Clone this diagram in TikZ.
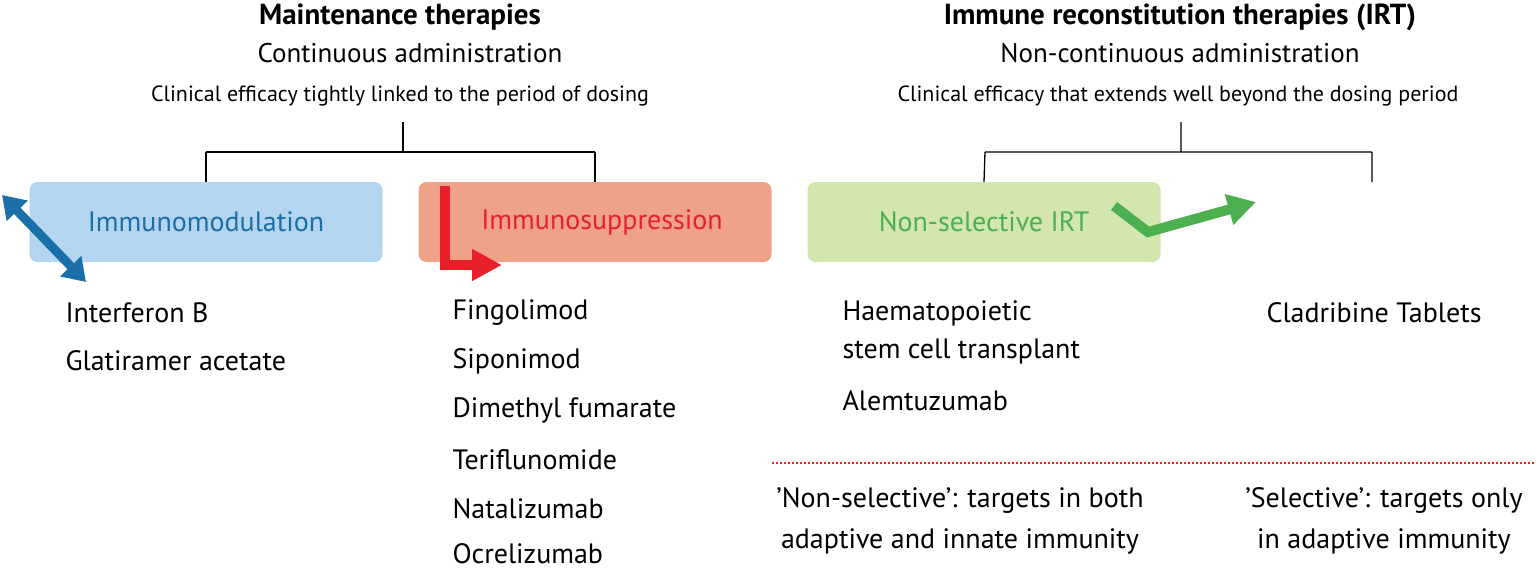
\documentclass[tikz,border=0pt]{standalone}
\usepackage{fontspec}
\setmainfont{PT Sans}
\usetikzlibrary{arrows.meta}
\definecolor{bfill}{HTML}{B3D5F0}\definecolor{rfill}{HTML}{EFA288}\definecolor{gfill}{HTML}{D2E6AE}
\definecolor{btxt}{HTML}{1B6FA8}\definecolor{rtxt}{HTML}{E8202A}\definecolor{gtxt}{HTML}{4CAF50}
\begin{document}
\begin{tikzpicture}[x=1pt,y=-1pt,
 box/.style={rounded corners=8pt,minimum width=353pt,minimum height=80pt,font=\fontsize{28}{30}\selectfont},
 item/.style={anchor=west,font=\fontsize{28}{30}\selectfont},
 hd/.style={font=\fontsize{27}{30}\selectfont},
 sm/.style={font=\fontsize{22}{24}\selectfont},
 ln/.style={line width=1.3pt}]
\useasboundingbox (0,0) rectangle (1536,570);
\node[font=\fontsize{29}{30}\selectfont\bfseries] (h1) at (400,17) {Maintenance therapies};
\node[hd] (s1) at (410,53) {Continuous administration};
\node[sm] (c1) at (400,96) {Clinical efficacy tightly linked to the period of dosing};
\node[font=\fontsize{29}{30}\selectfont\bfseries] (h2) at (1180,17) {Immune reconstitution therapies (IRT)};
\node[hd] (s2) at (1180,53) {Non-continuous administration};
\node[sm] (c2) at (1178,96) {Clinical efficacy that extends well beyond the dosing period};
\node[box,fill=bfill,text=btxt] (b1) at (206,222) {Immunomodulation};
\node[box,fill=rfill,text=rtxt] (b2) at (595,222) {\hspace*{14pt}Immunosuppression};
\node[box,fill=gfill,text=gtxt] (b3) at (984,222) {Non-selective IRT};
\coordinate (d4) at (1372,182);
\draw[ln] (403,122) -- (403,152) (206,152) -- (595,152) (206,152) -- (b1.north) (595,152) -- (b2.north);
\draw[ln] (1181,122) -- (1181,152) (985,152) -- (1372,152) (985,152) -- (b3.north) (1372,152) -- (d4);
\draw[btxt,line width=9pt,{Triangle[length=22pt,width=28pt]}-{Triangle[length=22pt,width=28pt]}] (2,195) -- (86,282);
\draw[rtxt,line width=10pt,-{Triangle[length=30pt,width=30pt]}] (445,186) -- (445,265) -- (502,265);
\draw[gtxt,line width=10pt,-{Triangle[length=28pt,width=30pt]}] (1114,206) -- (1148,232) -- (1256,202);
\node[item] (i1) at (62,313) {Interferon B};
\node[item] (i2) at (62,361) {Glatiramer acetate};
\node[item] (m1) at (449,313) {Fingolimod};
\node[item] (m2) at (449,361) {Siponimod};
\node[item] (m3) at (449,410) {Dimethyl fumarate};
\node[item] (m4) at (449,460) {Teriflunomide};
\node[item] (m5) at (449,509) {Natalizumab};
\node[item] (m6) at (449,554) {Ocrelizumab};
\node[item] (n1) at (839,313) {Haematopoietic};
\node[item] (n2) at (839,351) {stem cell transplant};
\node[item] (n3) at (839,401) {Alemtuzumab};
\node[item] (r1) at (1263,313) {Cladribine Tablets};
\coordinate (dl) at (772,463); \coordinate (dr) at (1536,463);
\draw[rtxt,line width=2pt,dotted] (dl) -- (dr);
\node[item,anchor=center,align=center,font=\fontsize{28}{41}\selectfont] (t1) at (960,521) {’Non-selective’: targets in both\\adaptive and innate immunity};
\node[item,anchor=center,align=center,font=\fontsize{28}{41}\selectfont] (t2) at (1384,521) {’Selective’: targets only\\in adaptive immunity};
\end{tikzpicture}
\end{document}
